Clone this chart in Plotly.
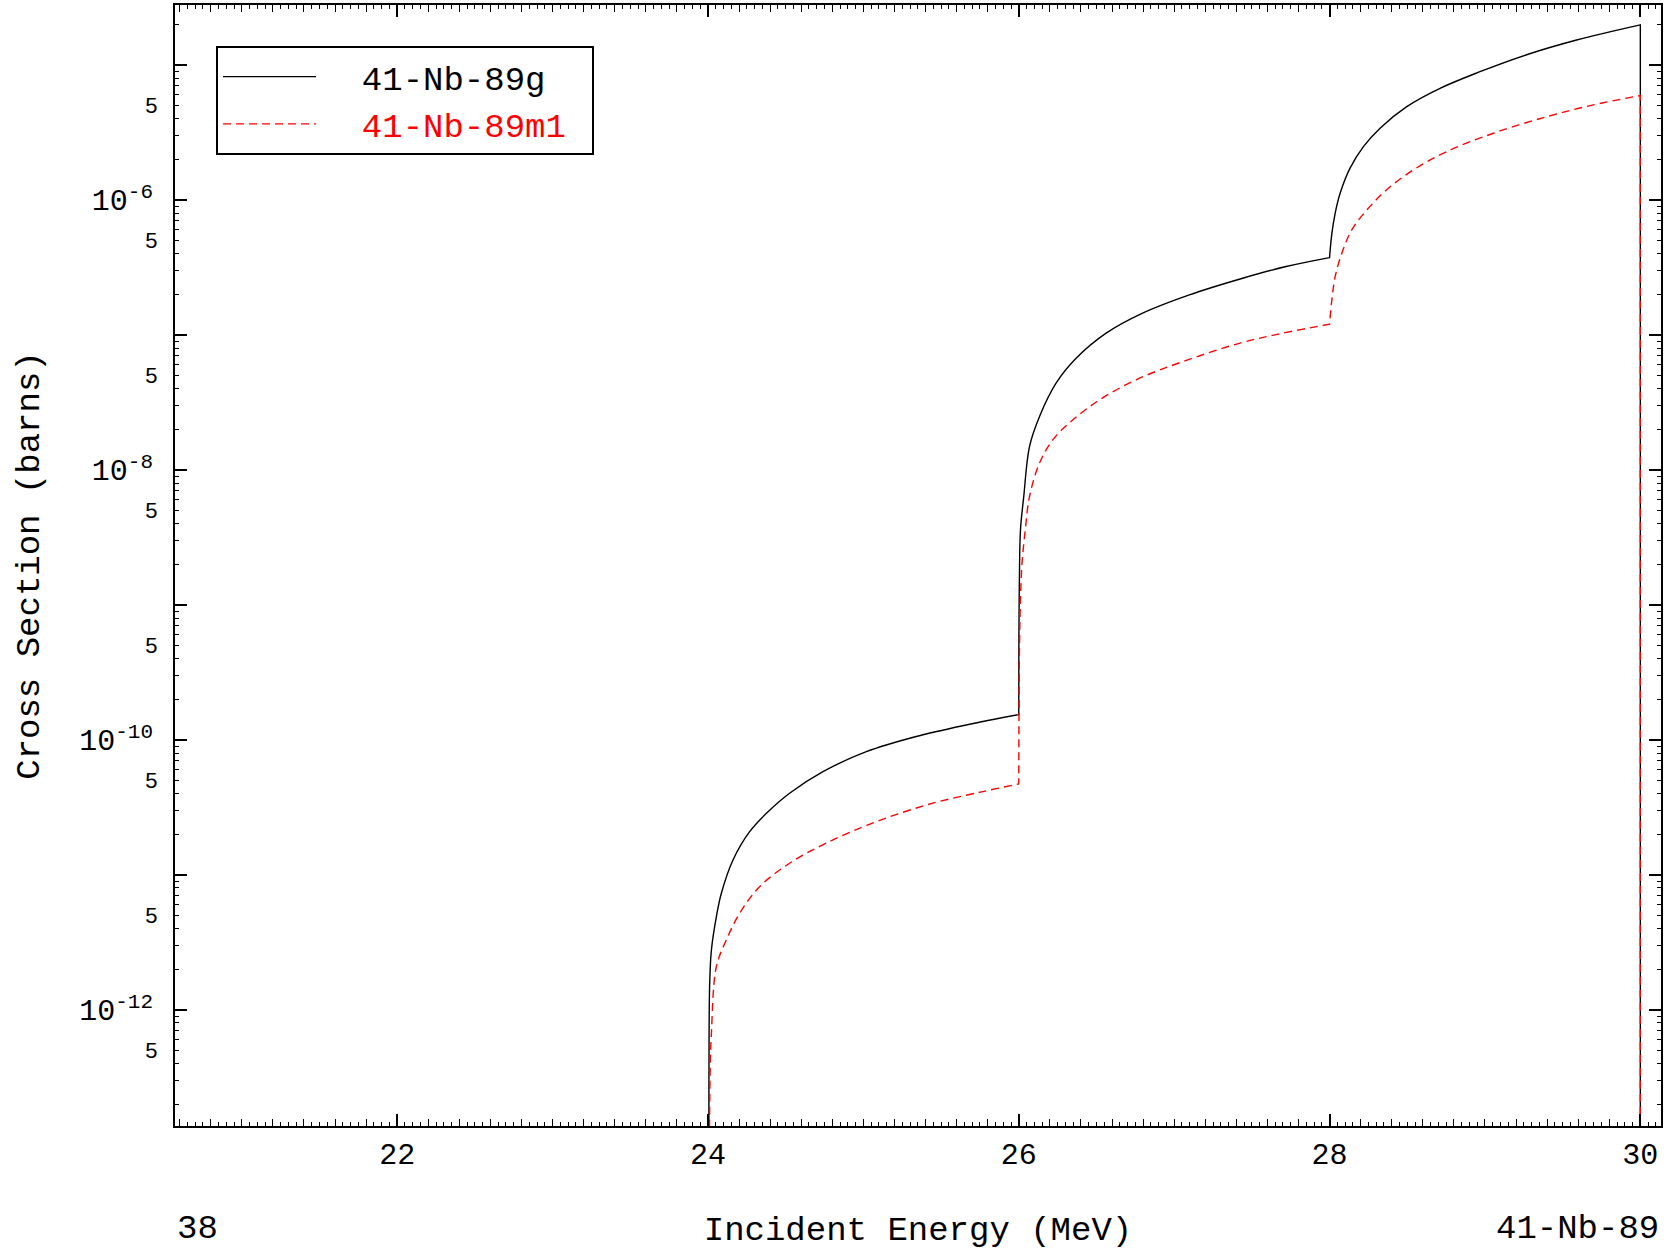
import plotly.graph_objects as go

# ---- data ----
g_name = "41-Nb-89g"
g_x = [24.0, 24.006, 24.011, 24.022, 24.054, 24.086, 24.161, 24.268, 24.376, 24.525, 24.740,
       25.019, 25.340, 25.662, 26.0, 26.001, 26.004, 26.011, 26.032, 26.069, 26.133, 26.240,
       26.369, 26.562, 26.797, 27.098, 27.441, 27.720, 28.0, 28.015, 28.036, 28.068, 28.132,
       28.218, 28.325, 28.497, 28.711, 28.968, 29.268, 29.590, 30.0, 30.0]
g_y = [1e-20, 2.86e-13, 1.58e-12, 2.78e-12, 4.91e-12, 7.31e-12, 1.29e-11, 2.09e-11, 2.86e-11,
       4.03e-11, 5.82e-11, 8.18e-11, 1.06e-10, 1.29e-10, 1.54e-10, 6.3e-10, 1.53e-9, 3.60e-9,
       6.34e-9, 1.49e-8, 2.48e-8, 4.39e-8, 6.71e-8, 1.03e-7, 1.45e-7, 1.98e-7, 2.63e-7, 3.21e-7,
       3.74e-7, 5.66e-7, 7.96e-7, 1.12e-6, 1.72e-6, 2.48e-6, 3.40e-6, 4.91e-6, 6.71e-6, 8.91e-6,
       1.19e-5, 1.53e-5, 1.98e-5, 1e-20]

m_name = "41-Nb-89m1"
m_x = [24.0, 24.013, 24.022, 24.054, 24.118, 24.204, 24.332, 24.525, 24.761, 25.083, 25.447,
       25.768, 26.0, 26.003, 26.010, 26.021, 26.042, 26.069, 26.133, 26.219, 26.347, 26.519,
       26.755, 27.055, 27.419, 27.698, 28.0, 28.015, 28.036, 28.079, 28.143, 28.240, 28.368,
       28.540, 28.754, 29.055, 29.398, 29.698, 30.0, 30.0]
m_y = [1e-20, 3.03e-13, 6.71e-13, 2.09e-12, 3.30e-12, 5.20e-12, 8.18e-12, 1.22e-11, 1.72e-11,
       2.48e-11, 3.40e-11, 4.14e-11, 4.72e-11, 3.16e-10, 1.0e-9, 2.04e-9, 3.60e-9, 6.34e-9,
       1.12e-8, 1.67e-8, 2.34e-8, 3.30e-8, 4.65e-8, 6.34e-8, 8.67e-8, 1.03e-7, 1.20e-7, 1.82e-7,
       2.70e-7, 4.03e-7, 6.00e-7, 8.43e-7, 1.19e-6, 1.67e-6, 2.28e-6, 3.12e-6, 4.14e-6, 5.06e-6,
       5.93e-6, 1e-20]

# reaction thresholds / end of data: the curves have sharp corners there
thresholds = [26.0, 28.0, 30.0]

x_tick_vals = [22, 24, 26, 28, 30]
x_tick_text = ["22", "24", "26", "28", "30"]
y_decade_label_vals = [1e-12, 1e-10, 1e-8, 1e-6]
y_decade_label_text = ["10<sup>-12</sup>", "10<sup>-10</sup>", "10<sup>-8</sup>", "10<sup>-6</sup>"]
y_five_vals = [5e-13, 5e-12, 5e-11, 5e-10, 5e-9, 5e-8, 5e-7, 5e-6]
y_five_text = ["5"] * len(y_five_vals)
y_decades = [1e-13, 1e-12, 1e-11, 1e-10, 1e-9, 1e-8, 1e-7, 1e-6, 1e-5]

x_range = [20.57, 30.133]
y_range_log = [-12.86, -4.556]

FONT = "Liberation Mono"
NB = "\u00a0"


def sharpen(xs, ys):
    """Repeat the first point at each threshold so the spline keeps a sharp corner there."""
    ox, oy, done = [], [], set()
    for x, y in zip(xs, ys):
        ox.append(x)
        oy.append(y)
        if x in thresholds and x not in done:
            ox.append(x)
            oy.append(y)
            done.add(x)
    return ox, oy


gx, gy = sharpen(g_x, g_y)
mx, my = sharpen(m_x, m_y)

y_minor = [k * d for d in y_decades for k in range(2, 10)]

fig = go.Figure()
fig.add_trace(go.Scatter(x=gx, y=gy, mode="lines", name=NB * 2 + g_name + NB,
                         line=dict(color="black", width=1.4, shape="spline",
                                   smoothing=1.0, simplify=False)))
fig.add_trace(go.Scatter(x=mx, y=my, mode="lines",
                         name=NB * 2 + "<span style='color:red'>" + m_name + "</span>" + NB,
                         line=dict(color="red", width=1.4, dash="8px,5px", shape="spline",
                                   smoothing=1.0, simplify=False)))
# empty traces that only attach the tick-only overlay axes
fig.add_trace(go.Scatter(x=[], y=[], xaxis="x2", yaxis="y2", showlegend=False,
                         hoverinfo="skip"))
fig.add_trace(go.Scatter(x=[], y=[], xaxis="x", yaxis="y3", showlegend=False,
                         hoverinfo="skip"))

axis_common = dict(showgrid=False, zeroline=False, automargin=False, visible=True)

fig.update_layout(
    width=1673, height=1251,
    margin=dict(l=175, r=12, t=5, b=125, autoexpand=False),
    paper_bgcolor="white", plot_bgcolor="white",
    font=dict(family=FONT, size=30, color="black"),
    showlegend=True,
    legend=dict(x=0.0276, y=0.9634, xanchor="left", yanchor="top",
                bgcolor="white", bordercolor="black", borderwidth=2,
                font=dict(family=FONT, size=34, color="black"),
                itemwidth=93),
    xaxis=dict(range=x_range, tickmode="array", tickvals=x_tick_vals, ticktext=x_tick_text,
               ticks="inside", ticklen=12, tickwidth=1.5, tickcolor="black",
               showline=True, linewidth=2, linecolor="black", mirror="ticks",
               tickfont=dict(family=FONT, size=30),
               minor=dict(dtick=0.05, tick0=0, ticks="inside", ticklen=4, tickwidth=1,
                          tickcolor="black", showgrid=False),
               title=dict(text="Incident Energy (MeV)", standoff=44,
                          font=dict(family=FONT, size=34)),
               **axis_common),
    xaxis2=dict(overlaying="x", anchor="y2", side="bottom", range=x_range,
                tick0=0, dtick=0.2, ticks="inside", ticklen=7, tickwidth=1, tickcolor="black",
                showticklabels=False, showline=True, linewidth=2, linecolor="black",
                mirror="ticks", **axis_common),
    yaxis=dict(type="log", range=y_range_log, tickmode="array", tickvals=y_decade_label_vals,
               ticktext=y_decade_label_text, ticks="", showline=True, linewidth=2,
               linecolor="black", mirror=True,
               tickfont=dict(family=FONT, size=30), ticklabelstandoff=14,
               title=dict(text="Cross Section (barns)", standoff=29,
                          font=dict(family=FONT, size=34)),
               **axis_common),
    yaxis2=dict(type="log", overlaying="y", anchor="x2", side="left", range=y_range_log,
                tickmode="array", tickvals=y_decades, ticks="inside", ticklen=12,
                tickwidth=1.5, tickcolor="black", showticklabels=False,
                showline=True, linewidth=2, linecolor="black", mirror="ticks",
                minor=dict(tickmode="array", tickvals=y_minor, ticks="inside", ticklen=4,
                           tickwidth=1, tickcolor="black", showgrid=False),
                **axis_common),
    yaxis3=dict(type="log", overlaying="y", anchor="x", side="left", range=y_range_log,
                tickmode="array", tickvals=y_five_vals, ticktext=y_five_text, ticks="",
                showline=False, tickfont=dict(family=FONT, size=22), ticklabelstandoff=16,
                **axis_common),
    annotations=[
        dict(text="38", xref="paper", yref="paper", x=0.0, y=-0.092,
             xanchor="left", yanchor="middle", showarrow=False,
             font=dict(family=FONT, size=34)),
        dict(text="41-Nb-89", xref="paper", yref="paper", x=1.0, y=-0.092,
             xanchor="right", yanchor="middle", showarrow=False,
             font=dict(family=FONT, size=34)),
    ],
)

fig.write_html("out.html", config={"displayModeBar": False},
               post_script="document.body.style.margin='0';")
